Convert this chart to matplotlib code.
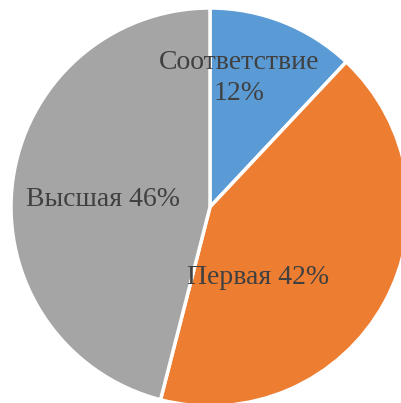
import matplotlib
matplotlib.use("Agg")
import numpy as np
from matplotlib import pyplot as plt

# Data
categories = ["Соответствие", "Первая", "Высшая"]
values = [12, 42, 46]
colors = ["#5B9BD5", "#ED7D31", "#A5A5A5"]
label_texts = ["Соответствие\n12%", "Первая 42%", "Высшая 46%"]
# label positions (radius fraction, angle in degrees), Excel-style placement
label_pos = [(0.665, 77.5), (0.43, -56), (0.54, 176)]

W, H = 401, 403
R = 199.0
cx, cy = 210.0, 207.0

fig = plt.figure(figsize=(W / 100, H / 100), dpi=100)
ax = fig.add_axes([0, 0, 1, 1])

wedges, texts = ax.pie(values, labels=label_texts, colors=colors,
                       startangle=90, counterclock=False, radius=1.0,
                       wedgeprops=dict(edgecolor="white", linewidth=2.5),
                       textprops=dict(family="Liberation Serif", fontsize=20,
                                      color="#404040", linespacing=1.3),
                       labeldistance=0.5)

for t, (r, a) in zip(texts, label_pos):
    t.set_position((r * np.cos(np.radians(a)), r * np.sin(np.radians(a))))
    t.set_horizontalalignment("center")
    t.set_verticalalignment("center")
    t.set_multialignment("center")

ax.set_xlim(-cx / R, (W - cx) / R)
ax.set_ylim(-(H - cy) / R, cy / R)
ax.set_aspect("auto")
ax.axis("off")

plt.savefig("out.png", dpi=100)
